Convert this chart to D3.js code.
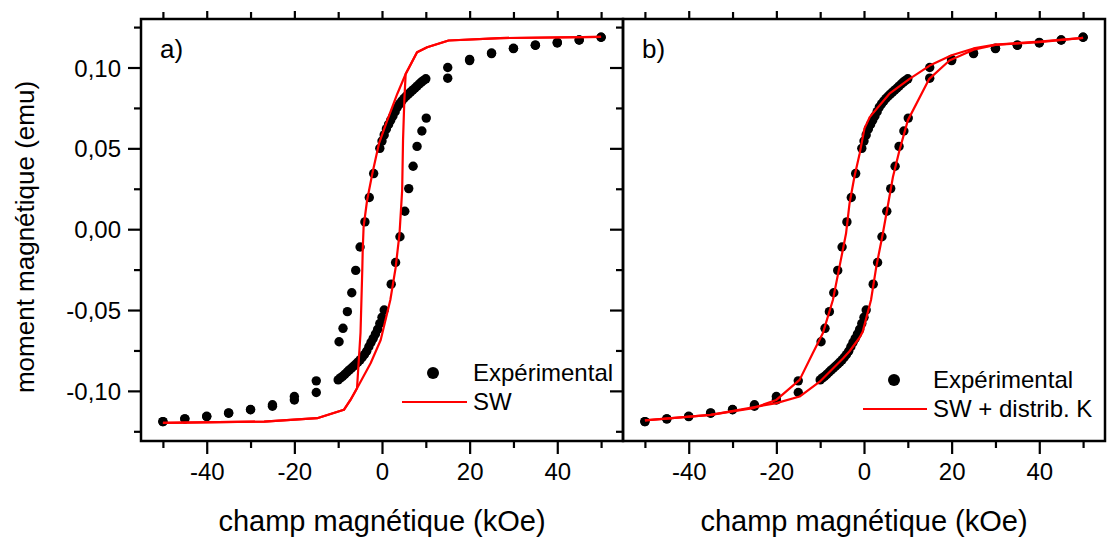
<!DOCTYPE html>
<html><head><meta charset="utf-8">
<script src="https://cdn.jsdelivr.net/npm/d3@7"></script>
<style>body{margin:0;background:#fff;} text{font-family:"Liberation Sans",Arial,sans-serif;fill:#000;}</style>
</head><body><svg id="c" width="1107" height="540"></svg>
<script>
// ---- Experimental data (field in kOe, moment in emu) ----
const expDescH = [50,45,40,35,30,25,20,15,10,9.5,9,8.5,8,7.5,7,6.5,6,5.5,5,4.5,4,3.5,3,2.5,2,1.5,1,0.5,0,-0.5,-1.9,-2.9,-3.9,-5.0,-6.0,-6.9,-7.9,-8.9,-9.8,-15,-20,-25,-30,-35,-40,-45,-50];
const expDescM = [0.1187,0.1170,0.1152,0.1138,0.1119,0.1086,0.1043,0.1000,0.0930,0.0920,0.0910,0.0898,0.0885,0.0872,0.0860,0.0848,0.0835,0.0822,0.0808,0.0792,0.0775,0.0755,0.0727,0.0700,0.0675,0.0648,0.0620,0.0583,0.0545,0.0500,0.0344,0.0196,0.0045,-0.0110,-0.0255,-0.0393,-0.0510,-0.0613,-0.0696,-0.0938,-0.1035,-0.1086,-0.1117,-0.1138,-0.1159,-0.1173,-0.1190];
const expAscH = [-50,-45,-40,-35,-30,-25,-20,-15,-10,-9.5,-9,-8.5,-8,-7.5,-7,-6.5,-6,-5.5,-5,-4.5,-4,-3.5,-3,-2.5,-2,-1.5,-1,-0.5,0,0.5,2.1,3.1,4.1,5.2,6.1,7.1,8.0,9.1,10.1,15,20,25,30,35,40,45,50];
const expAscM = [-0.1190,-0.1173,-0.1157,-0.1136,-0.1115,-0.1095,-0.1056,-0.1010,-0.0932,-0.0920,-0.0910,-0.0898,-0.0885,-0.0872,-0.0860,-0.0848,-0.0835,-0.0822,-0.0808,-0.0792,-0.0775,-0.0755,-0.0727,-0.0700,-0.0675,-0.0648,-0.0620,-0.0583,-0.0545,-0.0500,-0.0340,-0.0206,-0.0047,0.0111,0.0251,0.0389,0.0512,0.0607,0.0687,0.0934,0.1050,0.1090,0.1117,0.1138,0.1155,0.1170,0.1187];

// ---- Fit a) SW ----
const swDescH = [50,27,15.2,10.3,8,5.4,3.5,1.2,-0.7,-2.2,-3.4,-4.2,-4.4,-4.5,-4.9,-5.7,-7.2,-8.7,-14.8,-26.9,-50];
const swDescM = [0.1190,0.1182,0.1167,0.1125,0.1094,0.0960,0.0838,0.0673,0.0529,0.0344,0.0179,0.0014,-0.0130,-0.0253,-0.0640,-0.0984,-0.1056,-0.1117,-0.1169,-0.1190,-0.1198];
const swAscH = [-50,-26.9,-14.8,-8.7,-7.2,-5.7,-2.6,-0.3,1.9,3.1,4.0,4.6,4.8,5.1,5.4,8,10.3,15.2,27,50];
const swAscM = [-0.1198,-0.1190,-0.1169,-0.1117,-0.1056,-0.0984,-0.0829,-0.0685,-0.0438,-0.0240,-0.0027,0.0240,0.0550,0.0800,0.0960,0.1094,0.1125,0.1167,0.1182,0.1190];

// ---- Fit b) SW + distrib. K ----
const swkDescH = [50,40,30,25,20,15,10.4,5.8,1.3,0.1,-1.0,-2.2,-3.3,-4.1,-5.6,-7.1,-9.4,-11.7,-14.7,-20,-25.3,-35,-50];
const swkDescM = [0.1183,0.1160,0.1142,0.1118,0.1076,0.1012,0.0930,0.0838,0.0693,0.0622,0.0467,0.0323,0.0159,-0.0027,-0.0233,-0.0438,-0.0644,-0.0767,-0.0932,-0.1056,-0.1107,-0.1148,-0.1183];
const swkAscH = [-50,-35,-25,-20,-14.7,-10.1,-4.8,-3.3,-1.0,-0.3,1.6,2.8,4.3,5.6,6.6,8.1,10,14.9,19.5,25,30,40,50];
const swkAscM = [-0.1183,-0.1148,-0.1100,-0.1076,-0.1035,-0.0943,-0.0800,-0.0755,-0.0670,-0.0635,-0.0438,-0.0233,-0.0027,0.0170,0.0323,0.0488,0.0673,0.0930,0.1043,0.1110,0.1140,0.1157,0.1183];

// ---- Axis ticks / labels ----
const xMajor = [-40,-20,0,20,40];
const xMinor = [-50,-30,-10,10,30,50];
const yMajor = [-0.10,-0.05,0.00,0.05,0.10];
const yMinor = [-0.125,-0.075,-0.025,0.025,0.075,0.125];
const panelLabels = ["a)","b)"];
const legendDots = "Expérimental";
const legendFits = ["SW","SW + distrib. K"];
const xTitle = "champ magnétique (kOe)";
const yTitle = "moment magnétique (emu)";

const svg = d3.select("#c");
const yTop = 19, yBot = 441;
const y = d3.scaleLinear().domain([-0.131, 0.130]).range([yBot, yTop]);
const zip = (a,b) => a.map((v,i)=>[v,b[i]]);
const fmtY = v => (v < -1e-9 ? "-" : "") + Math.abs(v).toFixed(2).replace(".", ",");
const fmtX = v => (v < 0 ? "-" : "") + Math.abs(v);

const panels = [
  {x0:141, x1:623, fit:[zip(swDescH,swDescM), zip(swAscH,swAscM)], legend:legendFits[0], leg:{dot:[292,373], txt:332, line:[261,326,402]}, yLabels:true},
  {x0:623, x1:1105, fit:[zip(swkDescH,swkDescM), zip(swkAscH,swkAscM)], legend:legendFits[1], leg:{dot:[271,380], txt:310, line:[240,304,409]}, yLabels:false}
];

panels.forEach((p, idx) => {
  const x = d3.scaleLinear().domain([-55, 55]).range([p.x0, p.x1]);
  const g = svg.append("g");

  // experimental dots
  const pts = zip(expDescH, expDescM).concat(zip(expAscH, expAscM));
  g.append("g").selectAll("circle").data(pts).join("circle")
    .attr("cx", d => x(d[0])).attr("cy", d => y(d[1])).attr("r", 4.7).attr("fill", "#000");

  // fit lines
  const line = d3.line().x(d => x(d[0])).y(d => y(d[1]));
  p.fit.forEach(br => {
    g.append("path").attr("d", line(br)).attr("fill", "none")
      .attr("stroke", "#ff0000").attr("stroke-width", 2.2).attr("stroke-linejoin", "round");
  });

  // axes
  const ax = (gen, vals, size, tr, lab) => {
    const a = g.append("g").attr("transform", tr)
      .call(gen.tickValues(vals).tickSize(size).tickSizeOuter(0).tickFormat(lab || (() => "")));
    a.select(".domain").remove();
    a.selectAll(".tick line").attr("stroke", "#000").attr("stroke-width", 2.2);
    return a;
  };
  const bx = ax(d3.axisBottom(x), xMajor, 13, `translate(0,${yBot})`, fmtX);
  bx.selectAll(".tick text").attr("y", 0).attr("dy", 0).attr("transform", "translate(0,39)")
    .style("font-size", "24px").attr("font-family", null);
  ax(d3.axisBottom(x), xMinor, 7, `translate(0,${yBot})`);
  ax(d3.axisTop(x), xMajor, 8, `translate(0,${yTop})`);
  ax(d3.axisTop(x), xMinor, 7, `translate(0,${yTop})`);
  const ly = ax(d3.axisLeft(y), yMajor, 13, `translate(${p.x0},0)`, p.yLabels ? fmtY : null);
  ly.selectAll(".tick text").attr("x", -20).attr("dy", "0.36em").style("font-size", "24px").attr("font-family", null);
  ax(d3.axisLeft(y), yMinor, 7, `translate(${p.x0},0)`);

  // frame
  g.append("rect").attr("x", p.x0).attr("y", yTop).attr("width", p.x1 - p.x0).attr("height", yBot - yTop)
    .attr("fill", "none").attr("stroke", "#000").attr("stroke-width", 2.5);

  // panel label
  g.append("text").attr("x", p.x0 + 19).attr("y", 58).style("font-size", "26px").text(panelLabels[idx]);

  // legend
  g.append("circle").attr("cx", p.x0 + p.leg.dot[0]).attr("cy", p.leg.dot[1]).attr("r", 6).attr("fill", "#000");
  g.append("text").attr("x", p.x0 + p.leg.txt).attr("y", p.leg.dot[1] + 8).style("font-size", "24px").text(legendDots);
  g.append("line").attr("x1", p.x0 + p.leg.line[0]).attr("x2", p.x0 + p.leg.line[1])
    .attr("y1", p.leg.line[2]).attr("y2", p.leg.line[2]).attr("stroke", "#ff0000").attr("stroke-width", 2.2);
  g.append("text").attr("x", p.x0 + p.leg.txt).attr("y", p.leg.line[2] + 8).style("font-size", "24px").text(p.legend);

  // x title
  svg.append("text").attr("x", (p.x0 + p.x1) / 2).attr("y", 531).attr("text-anchor", "middle")
    .style("font-size", "29px").text(xTitle);
});

svg.append("text").attr("transform", "translate(34,237) rotate(-90)").attr("text-anchor", "middle")
  .style("font-size", "26px").text(yTitle);
</script></body></html>
